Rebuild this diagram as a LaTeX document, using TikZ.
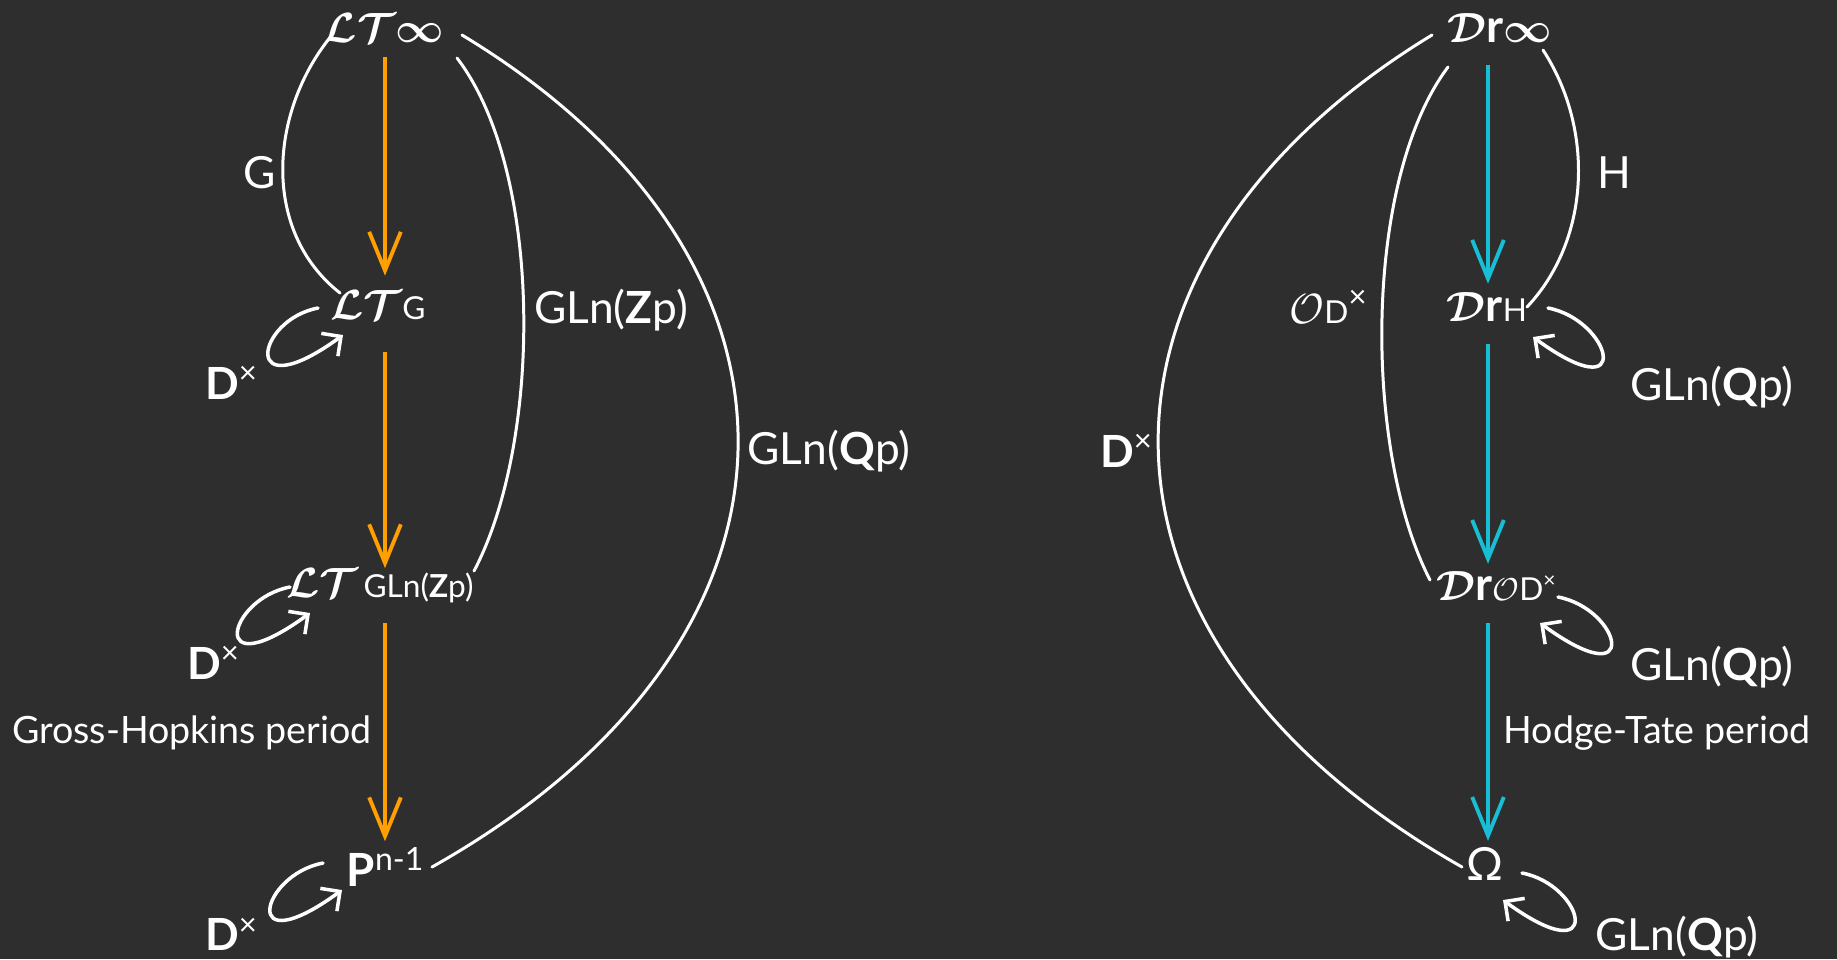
\documentclass[tikz,border=0pt]{standalone}
\usepackage{fontspec}
\setmainfont{Lato}
\usepackage{amsmath}
\usetikzlibrary{arrows.meta}
\definecolor{bgdark}{RGB}{47,46,47}
\definecolor{ghorange}{RGB}{255,159,0}
\definecolor{htcyan}{RGB}{24,190,212}
\newcommand{\subsz}{\fontsize{9}{10}\selectfont}
\newcommand{\bcal}[1]{\boldsymbol{\mathcal{#1}}}

\tikzset{
  space/.style={font=\fontsize{13}{15}\selectfont, text=white, inner sep=4pt},
  lbl/.style={font=\fontsize{12.6}{15}\selectfont, text=white, inner sep=1pt},
  perlbl/.style={font=\fontsize{10.7}{13}\selectfont, text=white, inner sep=1pt},
  ghper/.style={draw=ghorange, line width=1.1pt, -{Straight Barb[length=11pt,width=9pt]}},
  htper/.style={draw=htcyan, line width=1.1pt, -{Straight Barb[length=11pt,width=9pt]}},
  link/.style={draw=white, line width=0.85pt, line cap=round},
  act/.style={draw=white, line width=1pt, line cap=round, -{Straight Barb[length=4pt,width=8pt]}}
}

\begin{document}
\begin{tikzpicture}[x=0.01cm, y=-0.01cm]
  \fill[bgdark] (0,0) rectangle (1837,959);
  \useasboundingbox (0,0) rectangle (1837,959);

  % Lubin--Tate tower (left)
  \node[space] (ltinf) at (384,28)  {$\bcal{L}\bcal{T}\boldsymbol{\infty}$};
  \node[space] (ltG)   at (378,305) {$\bcal{L}\bcal{T}${\subsz G}};
  \node[space] (ltGL)  at (380,586) {$\bcal{L}\bcal{T}${\subsz\,GLn(\textbf{Z}p)}};
  \node[space] (pn)    at (386,867) {\textbf{P}\textsuperscript{n-1}};
  \coordinate (colL) at (385,0);

  % Drinfeld tower (right)
  \node[space] (drinf) at (1500,28)  {$\bcal{D}$\textbf{r}$\boldsymbol{\infty}$};
  \node[space] (drH)   at (1487,307) {$\bcal{D}$\textbf{r}{\subsz H}};
  \node[space] (drO)   at (1497,586) {$\bcal{D}$\textbf{r}{\subsz$\mathcal{O}$D\textsuperscript{×}}};
  \node[space] (omega) at (1485,864) {Ω};
  \coordinate (colR) at (1488,0);

  % labels
  \node[lbl] (lG)    at (260,173)  {G};
  \node[lbl] (lGLZ)  at (611,310)  {GLn(\textbf{Z}p)};
  \node[lbl] (lGLQ)  at (829,451)  {GLn(\textbf{Q}p)};
  \node[lbl] (lDa)   at (232,383)  {\textbf{D}\textsuperscript{×}};
  \node[lbl] (lDb)   at (214,663)  {\textbf{D}\textsuperscript{×}};
  \node[lbl] (lDc)   at (232,934)  {\textbf{D}\textsuperscript{×}};
  \node[perlbl] (lgh) at (192,733) {Gross-Hopkins period};
  \node[lbl] (lH)    at (1614,173) {H};
  \node[lbl] (lOD)   at (1329,307) {$\mathcal{O}${\subsz D}\textsuperscript{×}};
  \node[lbl] (lDr)   at (1127,451) {\textbf{D}\textsuperscript{×}};
  \node[lbl] (lQa)   at (1712,387) {GLn(\textbf{Q}p)};
  \node[lbl] (lQb)   at (1712,667) {GLn(\textbf{Q}p)};
  \node[lbl] (lQc)   at (1677,937) {GLn(\textbf{Q}p)};
  \node[perlbl] (lht) at (1657,733) {Hodge-Tate period};

  % period maps
  \draw[ghper] (ltinf.south -| colL) -- (ltG.north -| colL);
  \draw[ghper, shorten <=5pt, shorten >=-4pt] (ltG.south -| colL) -- (ltGL.north -| colL);
  \draw[ghper, shorten <=1.3pt, shorten >=-2.3pt] (ltGL.south -| colL) -- (pn.north -| colL);
  \draw[htper, shorten <=2.3pt, shorten >=-1.7pt] (drinf.south -| colR) -- (drH.north -| colR);
  \draw[htper, shorten <=2.3pt, shorten >=-2pt] (drH.south -| colR) -- (drO.north -| colR);
  \draw[htper, shorten <=2.3pt, shorten >=-2.3pt] (drO.south -| colR) -- (omega.north -| colR);

  % quotient curves, left
  \draw[link] ([shift={(-52,7)}]ltinf.center) .. controls +(-62,75) and +(-80,-63) .. ([shift={(-38,-12)}]ltG.center);
  \draw[link] ([shift={(73,30)}]ltinf.center) .. controls +(86,112) and +(69,-131) .. ([shift={(94,-15)}]ltGL.center);
  \draw[link] ([shift={(78,7)}]ltinf.center) .. controls +(373,225) and +(403,-227) .. ([shift={(46,0)}]pn.center);
  % quotient curves, right
  \draw[link] ([shift={(43,22)}]drinf.center) .. controls +(52,80) and +(63,-67) .. ([shift={(40,0)}]drH.center);
  \draw[link] ([shift={(-52,39)}]drinf.center) .. controls +(-85,113) and +(-67,-130) .. ([shift={(-67,-6)}]drO.center);
  \draw[link] ([shift={(-68,7)}]drinf.center) .. controls +(-370,225) and +(-400,-227) .. ([shift={(-23,3)}]omega.center);

  % group actions
  \draw[act] ([shift={(-60,3)}]ltG.center) .. controls +(-63,12) and +(-103,75) .. ([shift={(-35,30)}]ltG.center);
  \draw[act] ([shift={(-90,1)}]ltGL.center) .. controls +(-63,12) and +(-103,75) .. ([shift={(-70,27)}]ltGL.center);
  \draw[act] ([shift={(-63,-4)}]pn.center) .. controls +(-63,12) and +(-103,75) .. ([shift={(-44,23)}]pn.center);
  \draw[act] ([shift={(61,1)}]drH.center) .. controls +(63,12) and +(103,75) .. ([shift={(46,30)}]drH.center);
  \draw[act] ([shift={(61,11)}]drO.center) .. controls +(63,12) and +(103,75) .. ([shift={(43,37)}]drO.center);
  \draw[act] ([shift={(37,9)}]omega.center) .. controls +(63,12) and +(103,75) .. ([shift={(18,36)}]omega.center);
\end{tikzpicture}
\end{document}
